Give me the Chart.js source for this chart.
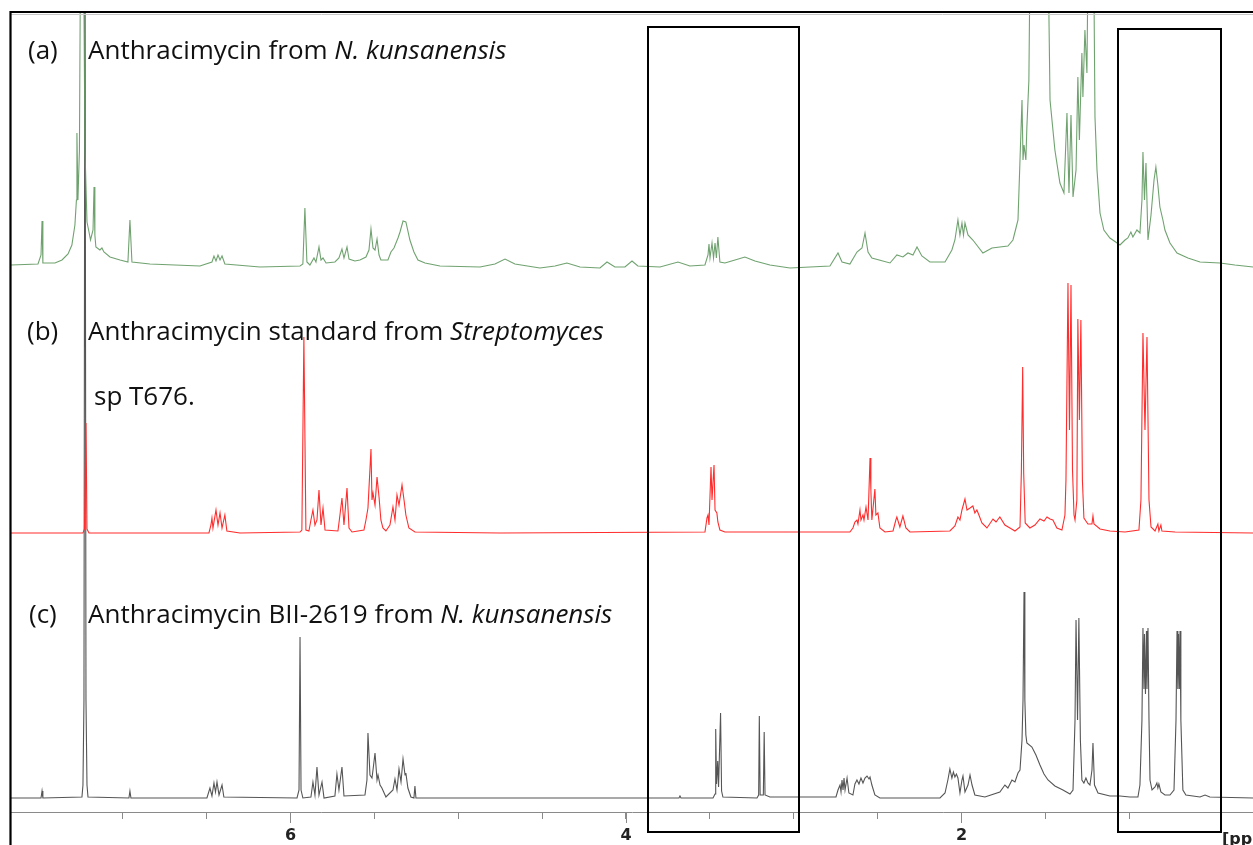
<!DOCTYPE html>
<html>
<head>
<meta charset="utf-8">
<title>Anthracimycin 1H NMR comparison</title>
<script src="https://cdn.jsdelivr.net/npm/chart.js@4.4.1/dist/chart.umd.min.js"></script>
<style>
  html, body { margin: 0; padding: 0; background: #fff; overflow: hidden; }
  #wrap { position: relative; width: 1253px; height: 845px; overflow: hidden; }
  #nmr { position: absolute; left: 0; top: 0; }
  .lbl {
    position: absolute;
    font-family: "Open Sans", Lato, sans-serif;
    font-size: 26px;
    line-height: 1;
    color: #111;
    white-space: nowrap;
  }
  .unit {
    position: absolute;
    left: 1222px;
    top: 829px;
    font: bold 16px "DejaVu Sans", sans-serif;
    color: #222;
    white-space: nowrap;
  }
</style>
</head>
<body>
<div id="wrap">
  <canvas id="nmr" width="1253" height="845"></canvas>

  <div class="lbl" style="left:28px; top:36px;">(a)</div>
  <div class="lbl" style="left:88px; top:36px;">Anthracimycin from <i>N. kunsanensis</i></div>

  <div class="lbl" style="left:27px; top:317px;">(b)</div>
  <div class="lbl" style="left:88px; top:317px;">Anthracimycin standard from <i>Streptomyces</i></div>
  <div class="lbl" style="left:94px; top:382px;">sp T676.</div>

  <div class="lbl" style="left:29px; top:600px;">(c)</div>
  <div class="lbl" style="left:88px; top:600px;">Anthracimycin BII-2619 from <i>N. kunsanensis</i></div>

  <div class="unit">[ppm]</div>
</div>

<script>
// Spectrum (a): crude extract, N. kunsanensis  — [ppm, intensity]
const spectrumA = [
  [7.666, 3], [7.505, 4], [7.487, 13], [7.481, 47], [7.476, 5], [7.404, 5], [7.362, 8], [7.326, 14],
  [7.303, 23], [7.285, 43], [7.276, 68], [7.273, 135], [7.267, 68], [7.258, 118], [7.249, 400], [7.237, 400],
  [7.225, 118], [7.213, 46], [7.201, 36], [7.192, 28], [7.177, 38], [7.171, 81], [7.166, 33], [7.160, 21],
  [7.136, 18], [7.124, 20], [7.112, 16], [7.076, 11], [7.016, 8], [6.969, 6], [6.957, 48], [6.945, 6],
  [6.838, 4], [6.540, 2], [6.468, 6], [6.456, 12], [6.444, 7], [6.432, 13], [6.420, 8], [6.408, 12],
  [6.391, 4], [6.182, 1], [5.943, 2], [5.926, 4], [5.914, 60], [5.902, 6], [5.884, 3], [5.860, 10],
  [5.848, 6], [5.830, 21], [5.818, 8], [5.806, 10], [5.788, 5], [5.735, 6], [5.711, 10], [5.693, 19],
  [5.681, 10], [5.663, 21], [5.651, 9], [5.616, 7], [5.586, 8], [5.550, 11], [5.532, 18], [5.520, 39],
  [5.508, 20], [5.496, 18], [5.484, 29], [5.472, 13], [5.461, 8], [5.419, 8], [5.401, 16], [5.383, 20],
  [5.371, 25], [5.359, 30], [5.347, 36], [5.329, 47], [5.312, 46], [5.288, 28], [5.264, 16], [5.240, 8],
  [5.198, 5], [5.109, 2], [4.870, 1], [4.781, 4], [4.721, 9], [4.662, 4], [4.513, 0], [4.423, 2],
  [4.352, 5], [4.274, 1], [4.155, 0], [4.113, 6], [4.066, 1], [4.006, 1], [3.964, 7], [3.929, 2],
  [3.797, 1], [3.690, 6], [3.619, 2], [3.529, 3], [3.511, 13], [3.505, 24], [3.499, 10], [3.487, 25],
  [3.478, 10], [3.469, 25], [3.461, 10], [3.452, 31], [3.440, 6], [3.410, 5], [3.350, 8], [3.291, 11],
  [3.231, 7], [3.142, 3], [3.022, 0], [2.784, 2], [2.736, 15], [2.712, 6], [2.665, 4], [2.623, 16],
  [2.593, 20], [2.575, 35], [2.557, 16], [2.534, 10], [2.426, 5], [2.385, 13], [2.349, 11], [2.319, 15],
  [2.289, 13], [2.265, 21], [2.236, 12], [2.188, 6], [2.098, 6], [2.057, 18], [2.039, 28], [2.021, 48],
  [2.009, 33], [1.997, 45], [1.988, 33], [1.979, 45], [1.961, 33], [1.932, 28], [1.872, 15], [1.818, 20],
  [1.771, 21], [1.723, 22], [1.693, 28], [1.675, 40], [1.663, 48], [1.651, 108], [1.639, 168], [1.633, 108],
  [1.627, 123], [1.616, 108], [1.610, 141], [1.598, 188], [1.586, 400], [1.490, 400], [1.472, 168], [1.443, 118],
  [1.413, 85], [1.389, 75], [1.371, 155], [1.359, 75], [1.347, 153], [1.335, 71], [1.317, 98], [1.306, 191],
  [1.297, 128], [1.282, 215], [1.276, 171], [1.264, 238], [1.252, 195], [1.240, 400], [1.216, 400], [1.204, 151],
  [1.192, 98], [1.174, 55], [1.151, 38], [1.115, 30], [1.055, 23], [1.025, 28], [1.008, 30], [0.990, 36],
  [0.978, 31], [0.954, 38], [0.936, 35], [0.924, 68], [0.918, 116], [0.909, 68], [0.900, 105], [0.888, 28],
  [0.870, 53], [0.852, 88], [0.841, 101], [0.829, 83], [0.817, 61], [0.799, 48], [0.787, 38], [0.757, 25],
  [0.715, 15], [0.650, 10], [0.578, 6], [0.459, 5], [0.370, 3], [0.262, 1]
];

// Spectrum (b): reference standard from Streptomyces sp T676
const spectrumB = [
  [7.666, 0], [7.237, 0], [7.228, 4], [7.219, 110], [7.213, 4], [7.201, 0],
  [6.486, 0], [6.474, 8], [6.468, 15], [6.462, 5], [6.444, 23], [6.432, 8], [6.420, 20], [6.408, 5],
  [6.391, 18], [6.379, 2], [6.301, 0],
  [5.943, 1], [5.932, 3], [5.920, 196], [5.908, 3], [5.890, 2], [5.878, 13], [5.866, 23], [5.854, 8],
  [5.842, 13], [5.830, 43], [5.818, 8], [5.806, 25], [5.794, 3],
  [5.717, 2], [5.705, 18], [5.693, 35], [5.681, 8], [5.663, 45], [5.651, 5], [5.633, 1],
  [5.562, 3], [5.550, 13], [5.538, 25], [5.520, 84], [5.514, 33], [5.508, 40], [5.496, 28], [5.484, 56],
  [5.472, 36], [5.461, 13], [5.449, 5], [5.431, 2],
  [5.407, 8], [5.389, 26], [5.377, 13], [5.365, 38], [5.353, 28], [5.335, 48], [5.323, 33], [5.312, 18],
  [5.294, 5], [5.258, 1], [4.751, 0],
  [3.529, 1], [3.517, 15], [3.511, 18], [3.505, 8], [3.493, 66], [3.487, 33], [3.475, 68], [3.469, 23],
  [3.458, 20], [3.452, 11], [3.440, 3], [3.410, 1],
  [2.665, 1], [2.647, 5], [2.635, 11], [2.623, 13], [2.617, 9], [2.605, 23], [2.599, 13], [2.587, 18],
  [2.581, 13], [2.569, 26], [2.557, 13], [2.545, 75], [2.540, 43], [2.534, 13], [2.516, 44], [2.510, 18],
  [2.498, 20], [2.486, 5], [2.456, 1],
  [2.408, 2], [2.391, 13], [2.385, 16], [2.367, 6], [2.349, 17], [2.331, 5], [2.307, 1],
  [2.069, 2], [2.039, 7], [2.021, 16], [2.009, 13], [1.997, 23], [1.979, 34], [1.967, 23], [1.949, 25],
  [1.932, 27], [1.920, 20], [1.908, 23], [1.896, 18], [1.878, 10], [1.848, 5], [1.812, 14], [1.794, 11],
  [1.771, 16], [1.741, 8], [1.711, 5], [1.681, 2],
  [1.651, 6], [1.643, 60], [1.635, 166], [1.629, 60], [1.620, 10],
  [1.592, 5], [1.562, 8], [1.532, 14], [1.508, 12], [1.490, 16], [1.472, 14], [1.455, 13], [1.431, 5],
  [1.401, 3], [1.383, 18], [1.377, 53], [1.365, 250], [1.356, 103], [1.347, 248], [1.338, 63], [1.329, 18],
  [1.323, 13], [1.312, 33], [1.306, 214], [1.297, 113], [1.288, 213], [1.279, 53], [1.270, 15], [1.246, 9],
  [1.222, 9], [1.216, 17], [1.210, 9], [1.174, 4], [1.115, 2], [1.025, 1],
  [0.942, 3], [0.930, 33], [0.918, 200], [0.906, 103], [0.894, 196], [0.882, 33], [0.870, 6], [0.846, 2],
  [0.829, 9], [0.823, 2], [0.811, 8], [0.805, 2], [0.727, 1], [0.262, 0]
];

// Spectrum (c): purified BII-2619 from N. kunsanensis
const spectrumC = [
  [7.666, 1], [7.487, 1], [7.481, 8], [7.476, 1],
  [7.243, 2], [7.237, 14], [7.231, 99], [7.225, 900], [7.219, 99], [7.213, 14], [7.207, 2],
  [6.963, 1], [6.957, 8], [6.951, 1],
  [6.498, 1], [6.480, 11], [6.468, 3], [6.456, 16], [6.447, 7], [6.438, 17], [6.426, 4], [6.408, 14],
  [6.397, 2],
  [5.961, 1], [5.949, 9], [5.943, 162], [5.937, 9], [5.926, 1],
  [5.878, 2], [5.866, 17], [5.854, 4], [5.842, 32], [5.830, 4], [5.812, 17], [5.800, 1],
  [5.735, 3], [5.723, 25], [5.711, 9], [5.693, 32], [5.681, 3],
  [5.556, 4], [5.544, 19], [5.538, 66], [5.526, 24], [5.514, 21], [5.508, 29], [5.496, 46], [5.484, 19],
  [5.478, 24], [5.466, 14], [5.455, 11], [5.431, 2],
  [5.389, 9], [5.377, 20], [5.365, 9], [5.353, 30], [5.341, 17], [5.329, 40], [5.317, 24], [5.312, 26],
  [5.300, 11], [5.282, 2], [5.264, 1], [5.258, 13], [5.252, 1],
  [3.684, 1], [3.678, 3], [3.672, 1],
  [3.481, 1], [3.469, 5], [3.465, 70], [3.460, 15], [3.453, 38], [3.448, 12], [3.436, 86], [3.430, 8],
  [3.422, 2],
  [3.219, 1], [3.209, 4], [3.205, 83], [3.200, 4], [3.181, 4], [3.176, 67], [3.171, 4], [3.142, 2],
  [2.748, 2], [2.736, 9], [2.724, 14], [2.718, 7], [2.712, 19], [2.706, 9], [2.700, 21], [2.694, 9],
  [2.682, 21], [2.671, 6], [2.647, 4], [2.635, 15], [2.623, 19], [2.611, 15], [2.599, 21], [2.587, 16],
  [2.575, 21], [2.563, 23], [2.551, 20], [2.545, 22], [2.534, 14], [2.516, 4], [2.486, 1],
  [2.128, 1], [2.098, 6], [2.081, 19], [2.069, 30], [2.057, 21], [2.048, 27], [2.039, 22], [2.030, 25],
  [2.021, 21], [2.009, 6], [1.997, 19], [1.991, 23], [1.979, 7], [1.961, 14], [1.949, 24], [1.937, 14],
  [1.920, 4], [1.860, 2],
  [1.771, 7], [1.741, 14], [1.723, 11], [1.699, 19], [1.681, 17], [1.663, 26], [1.651, 29], [1.639, 59],
  [1.633, 99], [1.627, 207], [1.622, 99], [1.616, 64], [1.610, 56], [1.580, 52], [1.556, 44], [1.532, 34],
  [1.508, 25], [1.484, 19], [1.443, 13], [1.395, 9], [1.353, 5],
  [1.335, 9], [1.323, 79], [1.317, 179], [1.308, 79], [1.300, 181], [1.291, 59], [1.282, 19], [1.270, 16],
  [1.258, 21], [1.246, 16], [1.234, 14], [1.222, 29], [1.216, 56], [1.207, 14], [1.186, 6], [1.115, 3],
  [1.055, 3], [0.996, 2], [0.948, 2],
  [0.936, 14], [0.924, 79], [0.918, 171], [0.912, 110], [0.909, 165], [0.903, 105], [0.897, 168],
  [0.894, 110], [0.888, 171], [0.882, 79], [0.876, 19], [0.864, 9], [0.846, 12], [0.835, 16], [0.829, 11],
  [0.823, 15], [0.811, 7], [0.787, 4], [0.757, 4],
  [0.733, 9], [0.721, 79], [0.715, 168], [0.710, 110], [0.706, 165], [0.701, 110], [0.697, 168],
  [0.692, 79], [0.680, 9], [0.662, 4], [0.578, 2], [0.548, 4], [0.519, 2], [0.262, 1]
];

// labelled chemical shift ticks
const ppmTickLabels = [6, 4, 2];

// regions of interest framed across all three traces [from ppm, to ppm]
const regionsOfInterest = [[3.869, 2.969], [1.064, 0.450]];

// vertical stacking of the three traces on the shared intensity axis
const traceLevel = { a: 544, b: 279, c: 13 };
const boxTop = [785, 783];
const boxBottom = -20;

function toPoints(spectrum, level) {
  return spectrum.map(([ppm, inten]) => ({ x: ppm, y: inten + level }));
}

// frame, region boxes and long marks on labelled ticks
const decorations = {
  id: 'decorations',
  afterDraw(chart) {
    const { ctx, chartArea, scales: { x, y } } = chart;
    ctx.save();

    ctx.strokeStyle = '#8a8a8a';
    ctx.lineWidth = 1;
    ppmTickLabels.forEach(v => {
      const px = Math.round(x.getPixelForValue(v)) + 0.5;
      ctx.beginPath();
      ctx.moveTo(px, chartArea.bottom);
      ctx.lineTo(px, chartArea.bottom + 11);
      ctx.stroke();
    });

    ctx.strokeStyle = '#c8c8c8';
    ctx.beginPath();
    ctx.moveTo(chartArea.left, chartArea.top + 2.5);
    ctx.lineTo(chart.width, chartArea.top + 2.5);
    ctx.stroke();

    ctx.strokeStyle = '#000';
    ctx.lineWidth = 2.2;
    ctx.beginPath();
    ctx.moveTo(chartArea.left - 0.5, chart.height);
    ctx.lineTo(chartArea.left - 0.5, chartArea.top);
    ctx.lineTo(chart.width, chartArea.top);
    ctx.stroke();

    ctx.lineWidth = 2;
    regionsOfInterest.forEach(([from, to], i) => {
      const l = Math.round(x.getPixelForValue(from));
      const r = Math.round(x.getPixelForValue(to));
      const t = Math.round(y.getPixelForValue(boxTop[i]));
      const b = Math.round(y.getPixelForValue(boxBottom));
      ctx.strokeRect(l, t, r - l, b - t);
    });
    ctx.restore();
  }
};

const lineStyle = { borderWidth: 1.1, pointRadius: 0, tension: 0, fill: false };

new Chart(document.getElementById('nmr').getContext('2d'), {
  type: 'line',
  data: {
    datasets: [
      { label: '(a)', data: toPoints(spectrumA, traceLevel.a), borderColor: 'rgba(96,152,96,0.9)', ...lineStyle },
      { label: '(b)', data: toPoints(spectrumB, traceLevel.b), borderColor: 'rgb(255,45,45)', ...lineStyle },
      { label: '(c)', data: toPoints(spectrumC, traceLevel.c), borderColor: 'rgb(85,85,85)', ...lineStyle }
    ]
  },
  options: {
    responsive: false,
    animation: false,
    events: [],
    layout: { padding: { left: 11, top: 12, right: 0, bottom: 0 } },
    plugins: { legend: { display: false }, tooltip: { enabled: false } },
    scales: {
      x: {
        type: 'linear',
        reverse: true,
        min: 0.262,
        max: 7.666,
        afterBuildTicks: s => {
          s.ticks = s.ticks.filter(t => Math.abs(t.value * 2 - Math.round(t.value * 2)) < 1e-6);
        },
        afterFit: s => { s.height = 33; },
        border: { display: true, color: '#8a8a8a', width: 1 },
        grid: { drawOnChartArea: false, drawTicks: true, tickLength: 7, tickColor: '#8a8a8a' },
        ticks: {
          stepSize: 0.5,
          autoSkip: false,
          maxRotation: 0,
          padding: 7,
          color: '#222',
          font: { family: 'DejaVu Sans', size: 16, weight: 'bold' },
          callback: v => (ppmTickLabels.some(t => Math.abs(t - v) < 1e-6) ? String(Math.round(v)) : '')
        }
      },
      y: { display: false, min: 0, max: 800 }
    }
  },
  plugins: [decorations]
});
</script>
</body>
</html>
